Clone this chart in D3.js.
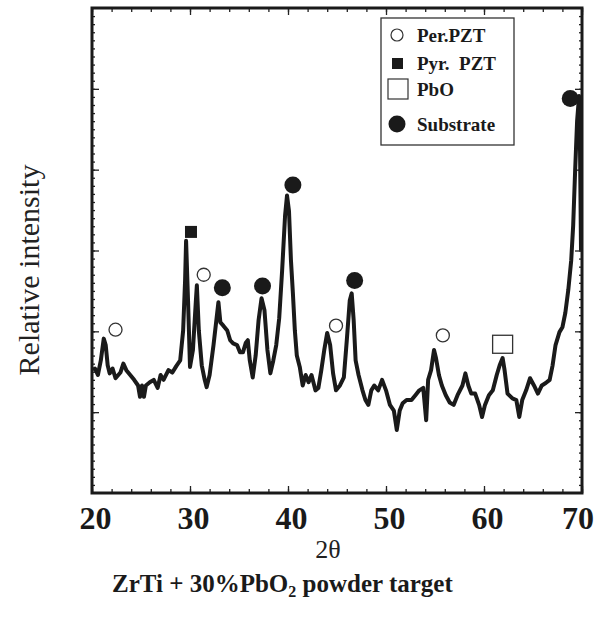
<!DOCTYPE html>
<html>
<head>
<meta charset="utf-8">
<script src="https://cdn.jsdelivr.net/npm/d3@7"></script>
<style>
  body { margin: 0; background: #fff; }
  svg { display: block; }
</style>
</head>
<body>
<div id="plot"></div>
<script>
// 2theta (deg) and relative intensity
var twoTheta = [
  20.1, 20.3, 20.6, 20.9, 21.2, 21.4, 21.6, 21.8, 22.1, 22.4, 22.9, 23.2, 23.5, 23.9,
  24.3, 24.7, 24.9, 25.1, 25.3, 25.5, 25.9, 26.3, 26.7, 27.0, 27.3, 27.8, 28.2, 28.6,
  29.0, 29.3, 29.5, 29.6, 29.8, 30.0, 30.3, 30.6, 30.7, 30.9, 31.2, 31.5, 31.7, 32.0,
  32.4, 32.9, 33.1, 33.4, 33.8, 34.1, 34.4, 34.8, 35.1, 35.4, 35.7, 35.9, 36.1, 36.4,
  36.7, 37.0, 37.3, 37.6, 37.9, 38.2, 38.5, 38.8, 39.1, 39.4, 39.7, 39.9, 40.1, 40.3,
  40.5, 40.7, 40.9, 41.2, 41.5, 41.8, 42.1, 42.4, 42.8, 43.1, 43.4, 43.7, 44.0, 44.3,
  44.6, 44.9, 45.3, 45.7, 46.0, 46.3, 46.5, 46.7, 46.9, 47.2, 47.6, 47.9, 48.2, 48.5,
  48.8, 49.2, 49.6, 50.0, 50.4, 50.8, 51.1, 51.4, 51.7, 52.1, 52.6, 53.0, 53.4, 53.8,
  54.1, 54.3, 54.6, 54.9, 55.1, 55.4, 55.7, 56.1, 56.5, 56.9, 57.3, 57.8, 58.1, 58.4,
  58.7, 59.1, 59.5, 59.8, 60.1, 60.5, 60.9, 61.3, 61.6, 61.9, 62.1, 62.4, 62.9, 63.3,
  63.6, 63.9, 64.3, 64.7, 65.1, 65.5, 65.9, 66.3, 66.7, 67.0, 67.3, 67.7, 68.0, 68.3,
  68.6, 68.9, 69.1, 69.3, 69.5, 69.7, 69.8, 69.9
];
var intensity = [
  1.52, 1.54, 1.46, 1.64, 1.91, 1.83, 1.58, 1.48, 1.54, 1.42, 1.49, 1.60, 1.52, 1.46,
  1.40, 1.33, 1.19, 1.33, 1.19, 1.33, 1.37, 1.40, 1.30, 1.46, 1.40, 1.52, 1.49, 1.57,
  1.64, 2.01, 2.63, 3.12, 2.38, 1.56, 1.77, 2.38, 2.57, 2.01, 1.58, 1.40, 1.31, 1.46,
  1.83, 2.36, 2.11, 2.07, 2.01, 1.89, 1.85, 1.83, 1.74, 1.74, 1.86, 1.89, 1.64, 1.43,
  1.70, 2.14, 2.41, 2.26, 1.77, 1.48, 1.64, 1.83, 2.16, 2.75, 3.43, 3.68, 3.49, 2.88,
  2.47, 2.01, 1.70, 1.56, 1.33, 1.46, 1.37, 1.46, 1.27, 1.30, 1.52, 1.77, 1.98, 1.83,
  1.48, 1.27, 1.33, 1.43, 1.89, 2.38, 2.47, 2.14, 1.64, 1.46, 1.27, 1.15, 1.09, 1.27,
  1.33, 1.27, 1.40, 1.27, 1.09, 1.02, 0.78, 1.02, 1.11, 1.15, 1.15, 1.21, 1.27, 1.30,
  0.90, 1.40, 1.52, 1.77, 1.67, 1.46, 1.33, 1.21, 1.12, 1.09, 1.21, 1.33, 1.48, 1.33,
  1.23, 1.23, 1.09, 0.94, 1.09, 1.21, 1.27, 1.46, 1.58, 1.67, 1.52, 1.23, 1.17, 1.15,
  0.94, 1.15, 1.27, 1.42, 1.33, 1.23, 1.33, 1.36, 1.40, 1.58, 1.83, 1.99, 2.05, 2.23,
  2.51, 2.88, 3.31, 3.99, 4.60, 4.91, 4.23, 3.00
];

// phase markers [2theta, intensity]
var perPzt = [[22.4, 2.02], [31.4, 2.70], [44.9, 2.07], [55.8, 1.95]];
var pyrPzt = [[30.1, 3.23]];
var pbo = [[61.9, 1.84]];
var substrate = [[33.3, 2.54], [37.4, 2.56], [40.5, 3.81], [46.8, 2.63], [68.8, 4.88]];

var legendLabels = ["Per.PZT", "Pyr.  PZT", "PbO", "Substrate"];
var xTicks = [20, 30, 40, 50, 60, 70];

var width = 606, height = 620
  , pLeft = 92, pRight = 582, pTop = 8, pBottom = 493;

var svg = d3.select("#plot")
  .append("svg")
  .attr("width", width)
  .attr("height", height)

var xScale = d3.scaleLinear()
  .domain([20, 70])
  .range([pLeft, pRight])

var yScale = d3.scaleLinear()
  .domain([0, 6])
  .range([pBottom, pTop])

var serif = "'Liberation Serif', 'DejaVu Serif', serif"

// minor / major ticks, pointing inwards on all four sides
var minorX = d3.range(20, 70.01, 2)
var minorY = d3.range(0.1, 5.95, 0.1)
var majorY = [1, 2, 3, 4, 5]

function tickAxis(g, axis) {
  g.call(axis)
  g.select(".domain").remove()
  g.selectAll("line").attr("stroke", "#222").attr("stroke-width", 1.3)
}

svg.append("g").attr("transform", "translate(0," + pBottom + ")")
  .call(g => tickAxis(g, d3.axisBottom(xScale).tickValues(minorX).tickSize(-4).tickFormat("")))
svg.append("g").attr("transform", "translate(0," + pBottom + ")")
  .call(g => tickAxis(g, d3.axisBottom(xScale).tickValues(xTicks).tickSize(-7).tickFormat("")))
svg.append("g").attr("transform", "translate(0," + pTop + ")")
  .call(g => tickAxis(g, d3.axisTop(xScale).tickValues(minorX).tickSize(-4).tickFormat("")))
svg.append("g").attr("transform", "translate(0," + pTop + ")")
  .call(g => tickAxis(g, d3.axisTop(xScale).tickValues(xTicks).tickSize(-7).tickFormat("")))

svg.append("g").attr("transform", "translate(" + pLeft + ",0)")
  .call(g => tickAxis(g, d3.axisLeft(yScale).tickValues(minorY).tickSize(-3).tickFormat("")))
svg.append("g").attr("transform", "translate(" + pLeft + ",0)")
  .call(g => tickAxis(g, d3.axisLeft(yScale).tickValues(majorY).tickSize(-7).tickFormat("")))
svg.append("g").attr("transform", "translate(" + pRight + ",0)")
  .call(g => tickAxis(g, d3.axisRight(yScale).tickValues(minorY).tickSize(-3).tickFormat("")))
svg.append("g").attr("transform", "translate(" + pRight + ",0)")
  .call(g => tickAxis(g, d3.axisRight(yScale).tickValues(majorY).tickSize(-7).tickFormat("")))

// x tick labels
var xLab = svg.append("g")
  .attr("transform", "translate(3," + (pBottom + 10) + ")")
  .call(d3.axisBottom(xScale).tickValues(xTicks).tickSize(0).tickFormat(d3.format("d")))
xLab.select(".domain").remove()
xLab.selectAll("text")
  .attr("y", 0)
  .attr("dy", "0.8em")
  .style("font-family", serif)
  .style("font-weight", "bold")
  .style("font-size", "32px")
  .attr("fill", "#1a1a1a")
xLab.selectAll(".tick").filter(d => d == 70)
  .attr("transform", "translate(" + (xScale(70) - 7) + ",0)")

svg.append("clipPath").attr("id", "clip")
  .append("rect")
  .attr("x", pLeft).attr("y", pTop)
  .attr("width", pRight - pLeft).attr("height", pBottom - pTop)

var line = d3.line()
  .x((d, i) => xScale(twoTheta[i]))
  .y(d => yScale(d))

svg.append("path")
  .datum(intensity)
  .attr("d", line)
  .attr("clip-path", "url(#clip)")
  .attr("fill", "none")
  .attr("stroke", "#1a1a1a")
  .attr("stroke-width", 4)
  .attr("stroke-linejoin", "round")

// frame
svg.append("rect")
  .attr("x", pLeft).attr("y", pTop)
  .attr("width", pRight - pLeft).attr("height", pBottom - pTop)
  .attr("fill", "none")
  .attr("stroke", "#1a1a1a")
  .attr("stroke-width", 3)

// phase markers
svg.selectAll("circle.per")
  .data(perPzt).enter()
  .append("circle")
  .attr("class", "per")
  .attr("cx", d => xScale(d[0])).attr("cy", d => yScale(d[1]))
  .attr("r", 6.5)
  .attr("fill", "#fff").attr("stroke", "#333").attr("stroke-width", 1.3)

svg.selectAll("rect.pyr")
  .data(pyrPzt).enter()
  .append("rect")
  .attr("class", "pyr")
  .attr("x", d => xScale(d[0]) - 6).attr("y", d => yScale(d[1]) - 6)
  .attr("width", 12).attr("height", 12)
  .attr("fill", "#1a1a1a")

svg.selectAll("rect.pbo")
  .data(pbo).enter()
  .append("rect")
  .attr("class", "pbo")
  .attr("x", d => xScale(d[0]) - 10).attr("y", d => yScale(d[1]) - 9)
  .attr("width", 20).attr("height", 18)
  .attr("fill", "#fff").attr("stroke", "#333").attr("stroke-width", 1.3)

svg.selectAll("circle.sub")
  .data(substrate).enter()
  .append("circle")
  .attr("class", "sub")
  .attr("cx", d => xScale(d[0])).attr("cy", d => yScale(d[1]))
  .attr("r", 8.5)
  .attr("fill", "#1a1a1a")

// legend
var lg = svg.append("g").attr("transform", "translate(381,18)")
lg.append("rect")
  .attr("width", 133).attr("height", 127)
  .attr("fill", "#fff").attr("stroke", "#333").attr("stroke-width", 1.3)

var rowY = [17, 45, 71, 106]
lg.append("circle").attr("cx", 16).attr("cy", rowY[0]).attr("r", 6)
  .attr("fill", "#fff").attr("stroke", "#333").attr("stroke-width", 1.2)
lg.append("rect").attr("x", 11).attr("y", rowY[1] - 5).attr("width", 11).attr("height", 11)
  .attr("fill", "#1a1a1a")
lg.append("rect").attr("x", 7).attr("y", rowY[2] - 10).attr("width", 20).attr("height", 20)
  .attr("fill", "#fff").attr("stroke", "#333").attr("stroke-width", 1.2)
lg.append("circle").attr("cx", 16).attr("cy", rowY[3]).attr("r", 8.5)
  .attr("fill", "#1a1a1a")

lg.selectAll("text.leg")
  .data(legendLabels).enter()
  .append("text")
  .attr("class", "leg")
  .attr("x", 36)
  .attr("y", (d, i) => rowY[i])
  .attr("dy", "0.35em")
  .style("white-space", "pre")
  .style("font-family", serif)
  .style("font-weight", "bold")
  .style("font-size", "19px")
  .attr("fill", "#1a1a1a")
  .text(d => d)

// axis titles
svg.append("text")
  .attr("transform", "translate(39,270) rotate(-90)")
  .attr("text-anchor", "middle")
  .style("font-family", serif)
  .style("font-size", "30px")
  .attr("fill", "#222")
  .text("Relative intensity")

svg.append("text")
  .attr("x", 328).attr("y", 558)
  .attr("text-anchor", "middle")
  .style("font-family", serif)
  .style("font-size", "26px")
  .attr("fill", "#222")
  .text("2θ")

var title = svg.append("text")
  .attr("x", 112).attr("y", 592)
  .style("font-family", serif)
  .style("font-weight", "bold")
  .style("font-size", "25px")
  .attr("fill", "#1a1a1a")
title.append("tspan").text("ZrTi + 30%PbO")
title.append("tspan").attr("dy", 5).style("font-size", "16px").text("2")
title.append("tspan").attr("dy", -5).text(" powder target")
</script>
</body>
</html>
